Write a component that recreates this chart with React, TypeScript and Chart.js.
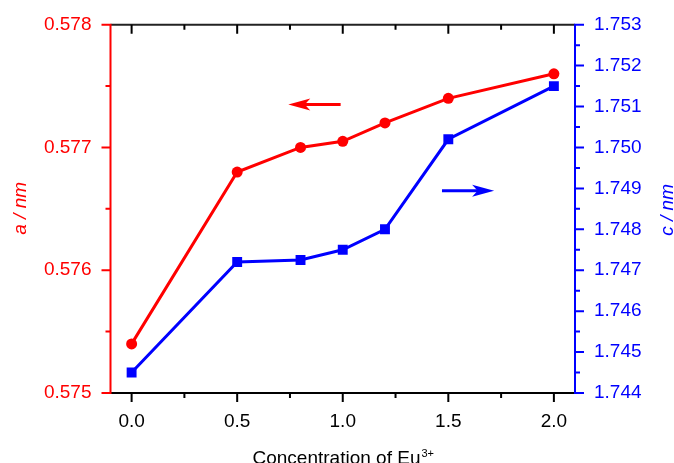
import { useEffect, useRef } from "react";
import { Chart, registerables } from "chart.js";

Chart.register(...registerables);

// Eu3+ concentration and the two lattice parameters
const concentration = [0, 0.5, 0.8, 1.0, 1.2, 1.5, 2.0];
const latticeA = [0.5754, 0.5768, 0.577, 0.57705, 0.5772, 0.5774, 0.5776];
const latticeC = [1.7445, 1.7472, 1.74725, 1.7475, 1.748, 1.7502, 1.7515];

// Axis ticks
const xTicks = [0, 0.5, 1.0, 1.5, 2.0];
const xMinorTicks = [0.25, 0.75, 1.25, 1.75];
const aTicks = [0.575, 0.576, 0.577, 0.578];
const aMinorTicks = [0.5755, 0.5765, 0.5775];
const cTicks = [1.744, 1.745, 1.746, 1.747, 1.748, 1.749, 1.75, 1.751, 1.752, 1.753];
const cMinorTicks = [1.7445, 1.7455, 1.7465, 1.7475, 1.7485, 1.7495, 1.7505, 1.7515, 1.7525];

// Arrows telling which axis each curve belongs to (tail x, tip x; y in axis units)
const aArrowX = [0.99, 0.742];
const aArrowY = 0.57735;
const cArrowX = [1.47, 1.717];
const cArrowY = 1.74894;

const RED = "#ff0000";
const BLUE = "#0000ff";
const FONT = "'Liberation Sans', Arial, sans-serif";

function drawArrow(ctx: CanvasRenderingContext2D, x0: number, x1: number, y: number, color: string) {
  const dir = Math.sign(x1 - x0);
  const headLen = 22;
  const headHalf = 6;
  ctx.save();
  ctx.strokeStyle = color;
  ctx.fillStyle = color;
  ctx.lineWidth = 3;
  ctx.beginPath();
  ctx.moveTo(x0, y);
  ctx.lineTo(x1 - dir * headLen * 0.6, y);
  ctx.stroke();
  ctx.beginPath();
  ctx.moveTo(x1, y);
  ctx.lineTo(x1 - dir * headLen, y - headHalf);
  ctx.lineTo(x1 - dir * headLen * 0.75, y);
  ctx.lineTo(x1 - dir * headLen, y + headHalf);
  ctx.closePath();
  ctx.fill();
  ctx.restore();
}

// keep the y axes' label overflow from pushing the plot area down
const trimVerticalPadding = (scale: any, width: number) => {
  scale.width = width;
  scale.paddingTop = 0;
  scale.paddingBottom = 0;
};

const framePlugin = {
  id: "frame",
  afterDraw(chart: any) {
    const ctx: CanvasRenderingContext2D = chart.ctx;
    const { left, right, top, bottom } = chart.chartArea;
    const xs = chart.scales.x;
    const ya = chart.scales.ya;
    const yc = chart.scales.yc;
    const major = 9;
    const minor = 5;

    ctx.save();
    ctx.lineWidth = 2;
    ctx.lineCap = "butt";

    // top and bottom frame lines with their ticks
    ctx.strokeStyle = "#222";
    ctx.beginPath();
    ctx.moveTo(left, top);
    ctx.lineTo(right, top);
    ctx.stroke();
    ctx.strokeStyle = "#000";
    ctx.beginPath();
    ctx.moveTo(left, bottom);
    ctx.lineTo(right, bottom);
    ctx.stroke();
    ctx.beginPath();
    xTicks.forEach((v) => {
      const px = xs.getPixelForValue(v);
      ctx.moveTo(px, bottom);
      ctx.lineTo(px, bottom + major);
      ctx.moveTo(px, top);
      ctx.lineTo(px, top + major);
    });
    xMinorTicks.forEach((v) => {
      const px = xs.getPixelForValue(v);
      ctx.moveTo(px, bottom);
      ctx.lineTo(px, bottom + minor);
      ctx.moveTo(px, top);
      ctx.lineTo(px, top + minor);
    });
    ctx.stroke();

    // left axis (a)
    ctx.strokeStyle = RED;
    ctx.beginPath();
    ctx.moveTo(left, top - 1);
    ctx.lineTo(left, bottom + 1);
    aTicks.forEach((v) => {
      const py = ya.getPixelForValue(v);
      ctx.moveTo(left, py);
      ctx.lineTo(left - major, py);
    });
    aMinorTicks.forEach((v) => {
      const py = ya.getPixelForValue(v);
      ctx.moveTo(left, py);
      ctx.lineTo(left - minor, py);
    });
    ctx.stroke();

    // right axis (c)
    ctx.strokeStyle = BLUE;
    ctx.beginPath();
    ctx.moveTo(right, top - 1);
    ctx.lineTo(right, bottom + 1);
    cTicks.forEach((v) => {
      const py = yc.getPixelForValue(v);
      ctx.moveTo(right, py);
      ctx.lineTo(right + major, py);
    });
    cMinorTicks.forEach((v) => {
      const py = yc.getPixelForValue(v);
      ctx.moveTo(right, py);
      ctx.lineTo(right + minor, py);
    });
    ctx.stroke();
    ctx.restore();

    // arrows
    drawArrow(ctx, xs.getPixelForValue(aArrowX[0]), xs.getPixelForValue(aArrowX[1]), ya.getPixelForValue(aArrowY), RED);
    drawArrow(ctx, xs.getPixelForValue(cArrowX[0]), xs.getPixelForValue(cArrowX[1]), yc.getPixelForValue(cArrowY), BLUE);

    // axis titles
    const midY = (top + bottom) / 2;
    ctx.save();
    ctx.font = `italic 19px ${FONT}`;
    ctx.textAlign = "center";
    ctx.textBaseline = "alphabetic";
    ctx.fillStyle = RED;
    ctx.translate(25.5, midY - 0.5);
    ctx.rotate(-Math.PI / 2);
    ctx.fillText("a / nm", 0, 0);
    ctx.restore();

    ctx.save();
    ctx.font = `italic 19px ${FONT}`;
    ctx.textAlign = "center";
    ctx.textBaseline = "alphabetic";
    ctx.fillStyle = BLUE;
    ctx.translate(672.5, midY + 1);
    ctx.rotate(-Math.PI / 2);
    ctx.fillText("c / nm", 0, 0);
    ctx.restore();

    ctx.save();
    const main = "Concentration of Eu";
    const sup = "3+";
    ctx.fillStyle = "#000";
    ctx.textBaseline = "alphabetic";
    ctx.textAlign = "left";
    ctx.font = `19px ${FONT}`;
    const wMain = ctx.measureText(main).width;
    ctx.font = `11px ${FONT}`;
    const wSup = ctx.measureText(sup).width;
    const startX = (left + right) / 2 - (wMain + wSup) / 2;
    ctx.font = `19px ${FONT}`;
    ctx.fillText(main, startX, 464);
    ctx.font = `11px ${FONT}`;
    ctx.fillText(sup, startX + wMain + 1, 456.5);
    ctx.restore();
  },
};

export default function App() {
  const canvasRef = useRef<HTMLCanvasElement | null>(null);

  useEffect(() => {
    if (!canvasRef.current) return;
    const chart = new Chart(canvasRef.current, {
      type: "line",
      data: {
        datasets: [
          {
            label: "a",
            data: concentration.map((x, i) => ({ x, y: latticeA[i] })),
            yAxisID: "ya",
            borderColor: RED,
            backgroundColor: RED,
            borderWidth: 3,
            pointStyle: "circle",
            pointRadius: 5.5,
            pointBorderWidth: 0,
            tension: 0,
          },
          {
            label: "c",
            data: concentration.map((x, i) => ({ x, y: latticeC[i] })),
            yAxisID: "yc",
            borderColor: BLUE,
            backgroundColor: BLUE,
            borderWidth: 3,
            pointStyle: "rect",
            pointRadius: 7,
            pointBorderWidth: 0,
            tension: 0,
          },
        ],
      },
      options: {
        responsive: false,
        animation: false,
        layout: { autoPadding: false, padding: { top: 24.7, left: 0, right: 0, bottom: 0 } },
        plugins: {
          legend: { display: false },
          tooltip: { enabled: false },
        },
        scales: {
          x: {
            type: "linear",
            position: "bottom",
            min: -0.1,
            max: 2.1,
            grid: { display: false, drawTicks: false },
            border: { display: false },
            afterBuildTicks: (scale: any) => {
              scale.ticks = xTicks.map((value) => ({ value }));
            },
            afterFit: (scale: any) => {
              scale.height = 70;
              scale.paddingLeft = 0;
              scale.paddingRight = 0;
            },
            ticks: {
              padding: 17,
              color: "#000",
              font: { family: FONT, size: 19 },
              maxRotation: 0,
              callback: (v: any) => Number(v).toFixed(1),
            },
          },
          ya: {
            type: "linear",
            position: "left",
            min: 0.575,
            max: 0.578,
            grid: { display: false, drawTicks: false },
            border: { display: false },
            afterBuildTicks: (scale: any) => {
              scale.ticks = aTicks.map((value) => ({ value }));
            },
            afterFit: (scale: any) => trimVerticalPadding(scale, 110.5),
            ticks: {
              padding: 19,
              color: RED,
              font: { family: FONT, size: 19 },
              callback: (v: any) => Number(v).toFixed(3),
            },
          },
          yc: {
            type: "linear",
            position: "right",
            min: 1.744,
            max: 1.753,
            grid: { display: false, drawTicks: false },
            border: { display: false },
            afterBuildTicks: (scale: any) => {
              scale.ticks = cTicks.map((value) => ({ value }));
            },
            afterFit: (scale: any) => trimVerticalPadding(scale, 99),
            ticks: {
              padding: 19,
              color: BLUE,
              font: { family: FONT, size: 19 },
              callback: (v: any) => Number(v).toFixed(3),
            },
          },
        },
      },
      plugins: [framePlugin],
    });
    return () => chart.destroy();
  }, []);

  return (
    <div style={{ position: "absolute", left: 0, top: 0, width: 674, height: 463, background: "#fff" }}>
      <canvas ref={canvasRef} width={674} height={463} />
    </div>
  );
}
